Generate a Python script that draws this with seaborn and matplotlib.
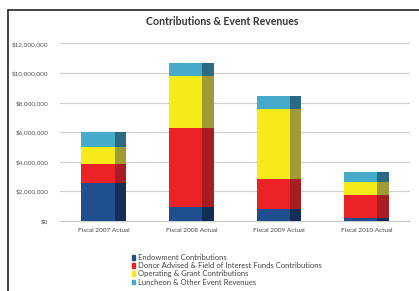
import numpy as np
import pandas as pd
import matplotlib
matplotlib.use("Agg")
import matplotlib.pyplot as plt
import seaborn as sns
from matplotlib.patches import Rectangle
from matplotlib.lines import Line2D
from matplotlib.ticker import FuncFormatter

years = ["Fiscal 2007 Actual", "Fiscal 2008 Actual", "Fiscal 2009 Actual", "Fiscal 2010 Actual"]
endowment = [2.57e6, 0.97e6, 0.79e6, 0.18e6]
donor = [1.28e6, 5.29e6, 2.03e6, 1.56e6]
operating = [1.15e6, 3.54e6, 4.73e6, 0.90e6]
luncheon = [0.99e6, 0.86e6, 0.90e6, 0.69e6]

series_names = ["Endowment Contributions",
                "Donor Advised & Field of Interest Funds Contributions",
                "Operating & Grant Contributions",
                "Luncheon & Other Event Revenues"]
front_colors = ["#1f4f8f", "#ec2227", "#f6ea18", "#46aacb"]
side_colors = ["#132f58", "#a81d22", "#a09c35", "#2b6a82"]

sns.set_style("white")
plt.rcParams["font.family"] = ["Lato", "DejaVu Sans"]

fig = plt.figure(figsize=(4.19, 2.91), dpi=100)
ax = fig.add_axes([0.143, 0.241, 0.836, 0.61])

df = pd.DataFrame({"year": years, "e": endowment, "d": donor, "o": operating, "l": luncheon})
cols = ["e", "d", "o", "l"]
cum = df[cols].cumsum(axis=1)

bar_w = 0.51
side_w = 0.13
# tallest layer first, lower layers painted over it
for i in reversed(range(4)):
    sns.barplot(x=df["year"], y=cum[cols[i]], color=front_colors[i], width=bar_w,
                saturation=1, linewidth=0, edgecolor="none", ax=ax, zorder=3)

# darker right-hand strip for the 3D look
pos = np.arange(len(years))
for i in range(4):
    bottom = cum[cols[i]] - df[cols[i]]
    ax.bar(pos + bar_w / 2 - side_w, df[cols[i]], bottom=bottom, width=side_w,
           align="edge", color=side_colors[i], linewidth=0, zorder=4)

ax.set_ylim(0, 12e6)
ax.set_xlim(-0.5, 3.5)
ax.set_yticks(np.arange(0, 12.1e6, 2e6))
ax.yaxis.set_major_formatter(FuncFormatter(lambda v, p: "$0" if v == 0 else f"${v:,.0f}"))
ax.grid(axis="y", color="#d0d0d0", linewidth=0.9, zorder=0)
ax.set_axisbelow(True)
for s in ["top", "right", "left"]:
    ax.spines[s].set_visible(False)
ax.spines["bottom"].set_color("#c8c8c8")
ax.tick_params(axis="y", labelsize=4.6, labelcolor="#555555", length=2.5, color="#d0d0d0", pad=6)
ax.tick_params(axis="x", labelsize=4.6, labelcolor="#444444", length=0, pad=5)
ax.set_xlabel("")
ax.set_ylabel("")

fig.text(0.53, 0.927, "Contributions & Event Revenues", ha="center", va="center",
         fontsize=7.6, fontweight="bold", color="#333333")

handles = [Rectangle((0, 0), 1, 1, color=c) for c in front_colors]
fig.legend(handles, series_names, loc="upper left", bbox_to_anchor=(0.305, 0.14),
           frameon=False, fontsize=5.5, handlelength=0.5, handleheight=0.5,
           handletextpad=0.35, labelspacing=0.15, borderpad=0, labelcolor="#444444")

# outer frame: only left and top edges are visible in the crop
fx, fy = 8 / 419, 1 - 10 / 291
fig.add_artist(Line2D([fx, fx], [0, fy], transform=fig.transFigure, color="#222222", lw=1.2))
fig.add_artist(Line2D([fx, 1], [fy, fy], transform=fig.transFigure, color="#222222", lw=1.2))

fig.savefig("out.png", dpi=100)
